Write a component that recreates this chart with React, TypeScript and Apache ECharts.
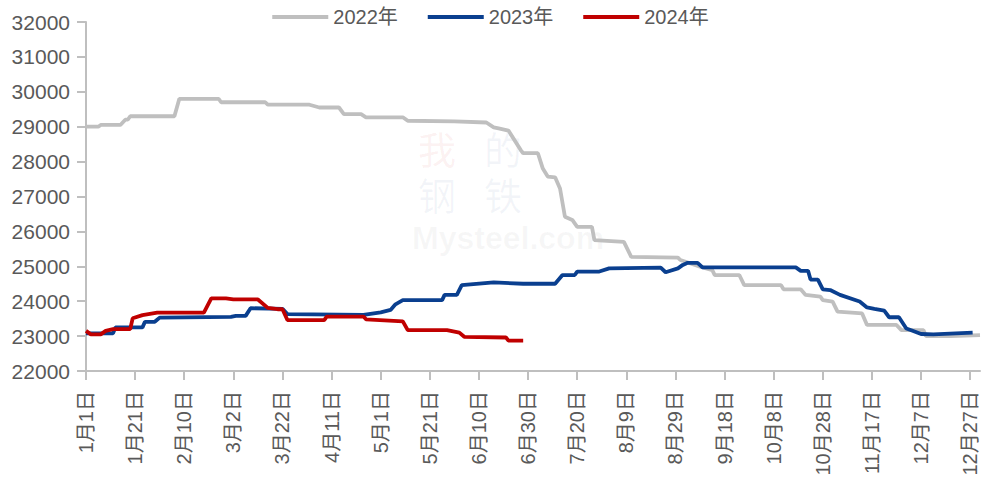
import React, { useEffect, useRef } from "react";
import * as echarts from "echarts";

const MONTH_DAYS = [31, 28, 31, 30, 31, 30, 31, 31, 30, 31, 30, 31];
const categories: string[] = [];
MONTH_DAYS.forEach((n, m) => {
  for (let d = 1; d <= n; d++) categories.push(`${m + 1}月${d}日`);
});

const seriesNames = ["2022年", "2023年", "2024年"];
const seriesColors = ["#bfbfbf", "#0a3f8f", "#c00000"];

// [day index from 1月1日, price]
const data2022: [number, number][] = [
  [0, 29000], [5, 29000], [6, 29050], [14, 29050], [16, 29200], [17, 29200], [18, 29300],
  [36, 29300], [38, 29800], [54, 29800], [55, 29700], [73, 29700], [74, 29630], [91, 29630],
  [95, 29550], [103, 29550], [105, 29360], [112, 29360], [114, 29270], [129, 29270],
  [131, 29170], [150, 29150], [163, 29120], [166, 28980], [168, 28950], [172, 28890],
  [177, 28330], [178, 28240], [184, 28240], [186, 27800], [188, 27570], [191, 27550],
  [193, 27230], [195, 26420], [198, 26330], [200, 26130], [206, 26130], [207, 25750],
  [219, 25700], [222, 25270], [241, 25250], [242, 25180], [250, 24990], [255, 24890],
  [256, 24750], [266, 24750], [268, 24460], [283, 24460], [284, 24340], [291, 24340],
  [293, 24180], [299, 24130], [300, 24030], [304, 23990], [306, 23700], [316, 23650],
  [318, 23320], [330, 23320], [332, 23170], [341, 23170], [342, 23000], [352, 23000],
  [364, 23030],
];
const data2023: [number, number][] = [
  [0, 23080], [11, 23080], [12, 23250], [23, 23250], [24, 23410], [28, 23410], [30, 23530],
  [59, 23550], [61, 23580], [65, 23580], [67, 23800], [80, 23780], [82, 23630], [113, 23610],
  [120, 23680], [124, 23750], [126, 23910], [129, 24030], [145, 24030], [146, 24180],
  [151, 24180], [153, 24460], [166, 24540], [178, 24500], [191, 24500], [194, 24750],
  [199, 24750], [200, 24850], [209, 24850], [213, 24940], [234, 24960], [236, 24830],
  [241, 24940], [243, 25040], [245, 25100], [249, 25100], [251, 24970], [289, 24970],
  [291, 24870], [294, 24870], [295, 24620], [298, 24620], [300, 24340], [303, 24320],
  [307, 24180], [315, 23990], [318, 23820], [321, 23780], [325, 23730], [327, 23540],
  [331, 23540], [334, 23220], [336, 23170], [340, 23060], [345, 23050], [361, 23100],
];
const data2024: [number, number][] = [
  [0, 23150], [2, 23050], [6, 23050], [8, 23150], [11, 23200], [18, 23200], [19, 23510],
  [23, 23600], [29, 23670], [48, 23670], [51, 24080], [57, 24080], [60, 24050], [70, 24050],
  [74, 23810], [78, 23770], [80, 23770], [82, 23460], [97, 23460], [98, 23560], [113, 23560],
  [114, 23480], [129, 23420], [131, 23170], [147, 23170], [152, 23100], [154, 22980],
  [171, 22960], [172, 22870], [178, 22870],
];

const FONT = "'Liberation Sans', 'Noto Sans CJK SC', sans-serif";

export default function App() {
  const ref = useRef<HTMLDivElement>(null);
  useEffect(() => {
    const chart = echarts.init(ref.current!, null, { renderer: "svg" });
    const allData = [data2022, data2023, data2024];
    const wm = (text: string, left: number, top: number, fill: string, size = 38) => ({
      type: "text",
      left,
      top,
      z: -1,
      style: { text, fontSize: size, lineHeight: size, fill, fontFamily: FONT },
    });
    chart.setOption({
      animation: false,
      backgroundColor: "#ffffff",
      textStyle: { fontFamily: FONT },
      legend: {
        top: 2,
        left: "center",
        itemWidth: 56,
        itemHeight: 4,
        itemGap: 30,
        icon: "rect",
        textStyle: { fontSize: 20, color: "#595959", fontFamily: FONT },
        data: seriesNames,
      },
      graphic: [
        wm("我", 418, 132, "rgba(220,60,60,0.07)"),
        wm("的", 484, 132, "rgba(60,90,150,0.06)"),
        wm("钢", 418, 178, "rgba(60,90,150,0.06)"),
        wm("铁", 484, 178, "rgba(60,90,150,0.06)"),
        {
          type: "text",
          left: 412,
          top: 222,
          z: -1,
          style: { text: "Mysteel.com", fontSize: 32, lineHeight: 32, fontWeight: "bold", fill: "rgba(120,120,120,0.06)", fontFamily: FONT },
        },
      ],
      grid: { left: 86, right: 1, top: 22, bottom: 115, containLabel: false },
      xAxis: {
        type: "category",
        data: categories,
        boundaryGap: false,
        axisLine: { lineStyle: { color: "#bfbfbf", width: 2 } },
        axisTick: { show: true, interval: 19, length: 9, lineStyle: { color: "#bfbfbf", width: 2 } },
        axisLabel: {
          interval: 19,
          rotate: 90,
          fontSize: 20,
          color: "#595959",
          margin: 20,
          fontFamily: FONT,
        },
        splitLine: { show: false },
      },
      yAxis: {
        type: "value",
        min: 22000,
        max: 32000,
        interval: 1000,
        axisLine: { show: true, lineStyle: { color: "#bfbfbf", width: 2 } },
        axisTick: { show: true, length: 9, lineStyle: { color: "#bfbfbf", width: 2 } },
        axisLabel: {
          fontSize: 21,
          color: "#595959",
          margin: 16,
          fontFamily: FONT,
          formatter: (v: number) => String(v),
        },
        splitLine: { show: false },
      },
      series: seriesNames.map((name, i) => ({
        name,
        type: "line",
        data: allData[i],
        showSymbol: false,
        symbol: "none",
        color: seriesColors[i],
        lineStyle: { color: seriesColors[i], width: 3.8 },
        itemStyle: { color: seriesColors[i] },
      })),
    });
    return () => chart.dispose();
  }, []);
  return (
    <div
      ref={ref}
      style={{ position: "fixed", left: 0, top: 0, width: 981, height: 486 }}
    />
  );
}
